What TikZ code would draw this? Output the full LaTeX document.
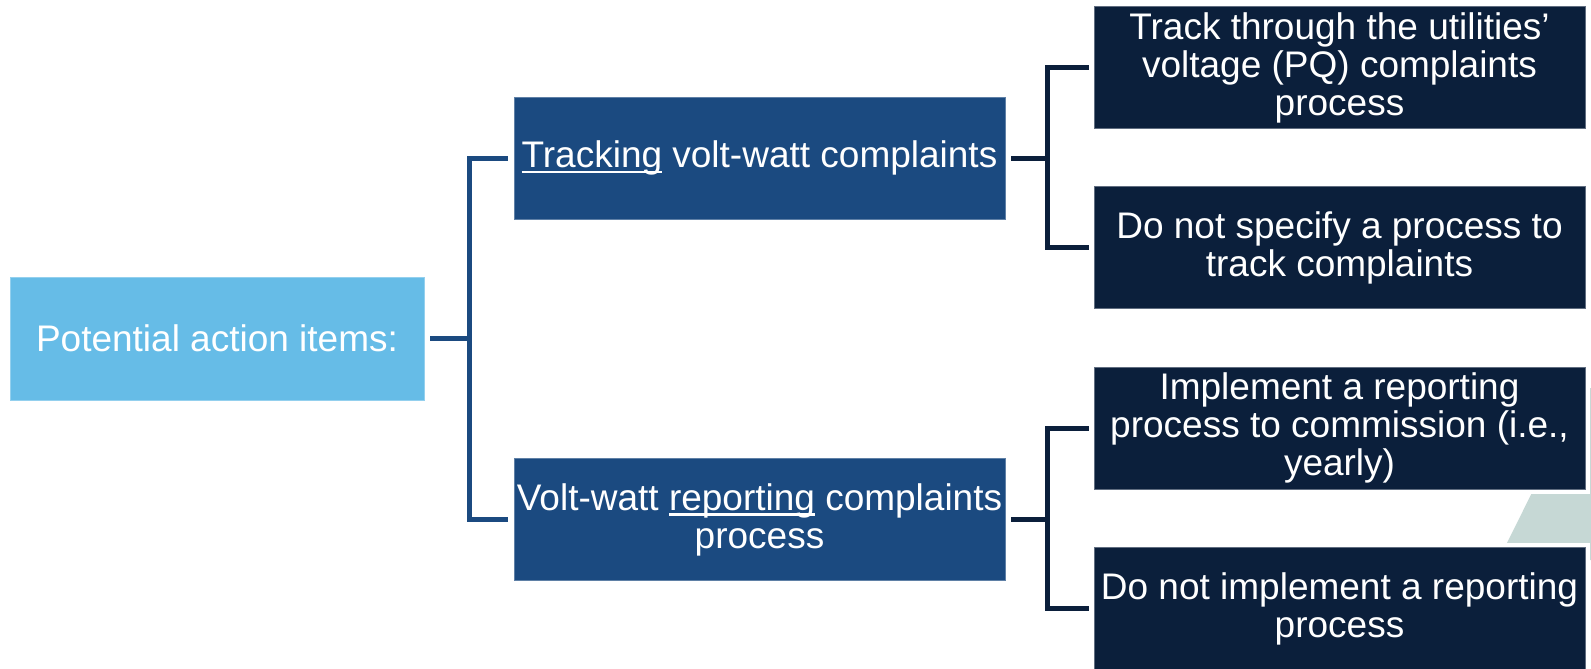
\documentclass[tikz,border=0pt]{standalone}
\usepackage{fontspec}
\setmainfont{Liberation Sans}
\usetikzlibrary{calc}
\definecolor{rootblue}{HTML}{66BCE7}
\definecolor{midblue}{HTML}{1B4A80}
\definecolor{navy}{HTML}{0B1F3B}
\definecolor{tealgrey}{HTML}{C6D8D5}
\newcommand\ulword[1]{\setbox0\hbox{#1}\rlap{\rule[-0.15em]{\wd0}{0.065em}}#1}
\begin{document}
\begin{tikzpicture}[x=1pt,y=-1pt,
  box/.style={rectangle, inner sep=0pt, align=center, text=white,
    font=\fontsize{37}{38}\selectfont, minimum width=491pt,
    preaction={draw=white, line width=10pt}},
  rootbox/.style={box, fill=rootblue, draw=rootblue!70!white, line width=0.8pt,
    minimum width=414pt, minimum height=123pt},
  midbox/.style={box, fill=midblue, draw=midblue!70!white, line width=0.8pt, minimum height=122pt},
  leafbox/.style={box, fill=navy, draw=navy!65!white, line width=0.8pt, minimum height=122pt},
  lconn/.style={draw=midblue, line width=5pt},
  rconn/.style={draw=navy, line width=5pt}]
\useasboundingbox (0,0) rectangle (1591,669);
\fill[tealgrey] (1584,388) -- (1591,388) -- (1591,560) -- (1498.5,560) -- cycle;

\node[rootbox] (root) at (217,338.5) {Potential action items:};
\node[midbox] (m1) at (759.5,158) {\ulword{Tracking} volt-watt complaints};
\node[midbox] (m2) at (759.5,519.5) {Volt-watt \ulword{reporting} complaints\\process};
\node[leafbox] (r1) at (1339.5,67.5) {Track through the utilities’\\voltage (PQ) complaints\\process};
\node[leafbox] (r2) at (1339.5,247.5) {Do not specify a process to\\track complaints};
\node[leafbox] (r3) at (1339.5,428) {Implement a reporting\\process to commission (i.e.,\\yearly)};
\node[leafbox] (r4) at (1339.5,608.5) {Do not implement a reporting\\process};

\coordinate (j0) at ($(root.east)+(45,0)$);
\coordinate (j1) at ($(m1.east)+(42,0)$);
\coordinate (j2) at ($(m2.east)+(42,0)$);

\draw[lconn] ([xshift=6pt]root.east) -- (j0);
\draw[lconn] ([xshift=-6pt]m1.west) -| (j0) |- ([xshift=-6pt]m2.west);
\draw[rconn] ([xshift=6pt]m1.east) -- (j1);
\draw[rconn] ([xshift=-5pt]r1.west) -| (j1) |- ([xshift=-5pt]r2.west);
\draw[rconn] ([xshift=6pt]m2.east) -- (j2);
\draw[rconn] ([xshift=-5pt]r3.west) -| (j2) |- ([xshift=-5pt]r4.west);
\end{tikzpicture}
\end{document}
